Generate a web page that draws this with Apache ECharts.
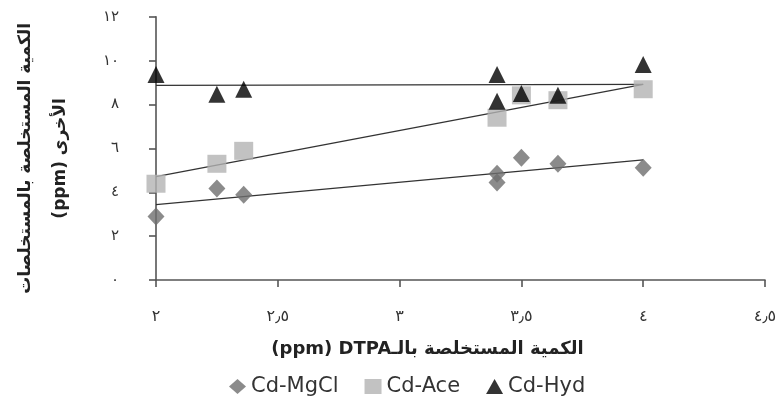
<!DOCTYPE html>
<html>
<head>
<meta charset="utf-8">
<script src="https://cdn.jsdelivr.net/npm/echarts@6/dist/echarts.min.js"></script>
<style>html,body{margin:0;padding:0;background:#fff;}#c{width:783px;height:406px;}</style>
</head>
<body>
<div id="c"></div>
<script>
// ---- data ----
var seriesNames = ['Cd-MgCl', 'Cd-Ace', 'Cd-Hyd'];
var mgclData = [[2.0,2.90],[2.25,4.17],[2.36,3.89],[3.4,4.85],[3.4,4.45],[3.5,5.57],[3.65,5.30],[4.0,5.12]];
var aceData  = [[2.0,4.39],[2.25,5.30],[2.36,5.89],[3.4,7.40],[3.5,8.42],[3.65,8.20],[4.0,8.70]];
var hydData  = [[2.0,9.37],[2.25,8.47],[2.36,8.70],[3.4,9.37],[3.4,8.15],[3.5,8.51],[3.65,8.42],[4.0,9.83]];
var mgclTrend = [[2.0,3.44],[4.0,5.48]];
var aceTrend  = [[2.0,4.71],[4.0,8.92]];
var hydTrend  = [[2.0,8.88],[4.0,8.92]];
var xTickValues = [2, 2.5, 3, 3.5, 4, 4.5];
var xTickLabels = ['٢', '٢٫٥', '٣', '٣٫٥', '٤', '٤٫٥'];
var yTickValues = [0, 2, 4, 6, 8, 10, 12];
var yTickLabels = ['٠', '٢', '٤', '٦', '٨', '١٠', '١٢'];
var xTitle = '(ppm) DTPA' + 'الكمية المستخلصة بالـ';
var yTitle = 'الكمية المستخلصة بالمستخلصات' + '\n' + '(ppm) الأخرى';

function lookup(vals, labels, v) {
  for (var i = 0; i < vals.length; i++) if (Math.abs(vals[i] - v) < 1e-6) return labels[i];
  return '';
}

var axisCol = '#555555';
var chart = echarts.init(document.getElementById('c'), null, {renderer: 'canvas'});
chart.setOption({
  animation: false,
  backgroundColor: '#ffffff',
  grid: {left: 150, right: 18, top: 15, bottom: 126},
  legend: {
    data: [
      {name: 'Cd-MgCl', icon: 'diamond'},
      {name: 'Cd-Ace', icon: 'rect'},
      {name: 'Cd-Hyd', icon: 'triangle'}
    ],
    left: 229, top: 376,
    itemWidth: 17, itemHeight: 15, itemGap: 26,
    textStyle: {fontFamily: 'DejaVu Sans', fontSize: 21, color: '#333'},
    padding: [0, 0, 0, 0]
  },
  xAxis: {
    type: 'value', min: 2, max: 4.5, interval: 0.5,
    name: xTitle, nameLocation: 'middle', nameGap: 60,
    nameTextStyle: {fontFamily: 'DejaVu Sans', fontWeight: 'bold', fontSize: 18, color: '#222', padding: [0, 66, 0, 0]},
    axisLine: {show: true, lineStyle: {color: axisCol, width: 1.6}},
    axisTick: {show: true, length: 7, lineStyle: {color: axisCol, width: 1.6}},
    axisLabel: {margin: 29, fontFamily: 'DejaVu Sans', fontSize: 16, color: '#333',
      formatter: function (v) { return lookup(xTickValues, xTickLabels, v); }},
    splitLine: {show: false}
  },
  yAxis: {
    type: 'value', min: 0, max: 12, interval: 2,
    name: yTitle, nameLocation: 'middle', nameGap: 78, nameRotate: 90,
    nameTextStyle: {fontFamily: 'DejaVu Sans', fontWeight: 'bold', fontSize: 17, lineHeight: 35, color: '#222', padding: [0, 20, 0, 0]},
    axisLine: {show: true, lineStyle: {color: axisCol, width: 1.6}},
    axisTick: {show: true, length: 7, lineStyle: {color: axisCol, width: 1.6}},
    axisLabel: {margin: 37, fontFamily: 'DejaVu Sans', fontSize: 15, color: '#333',
      formatter: function (v) { return lookup(yTickValues, yTickLabels, v); }},
    splitLine: {show: false}
  },
  series: [
    {name: 'trendMg', type: 'line', data: mgclTrend, symbol: 'none', silent: true,
      lineStyle: {color: '#333', width: 1.3}, z: 1},
    {name: 'trendAce', type: 'line', data: aceTrend, symbol: 'none', silent: true,
      lineStyle: {color: '#333', width: 1.3}, z: 1},
    {name: 'trendHyd', type: 'line', data: hydTrend, symbol: 'none', silent: true,
      lineStyle: {color: '#333', width: 1.3}, z: 1},
    {name: 'Cd-MgCl', type: 'scatter', data: mgclData, symbol: 'diamond', symbolSize: [17, 18],
      itemStyle: {color: '#6e6e6e'}, z: 3},
    {name: 'Cd-Ace', type: 'scatter', data: aceData, symbol: 'rect', symbolSize: [19, 18],
      itemStyle: {color: '#b3b3b3'}, z: 2},
    {name: 'Cd-Hyd', type: 'scatter', data: hydData, symbol: 'triangle', symbolSize: 17,
      itemStyle: {color: '#000000'}, z: 4}
  ]
});
</script>
</body>
</html>
